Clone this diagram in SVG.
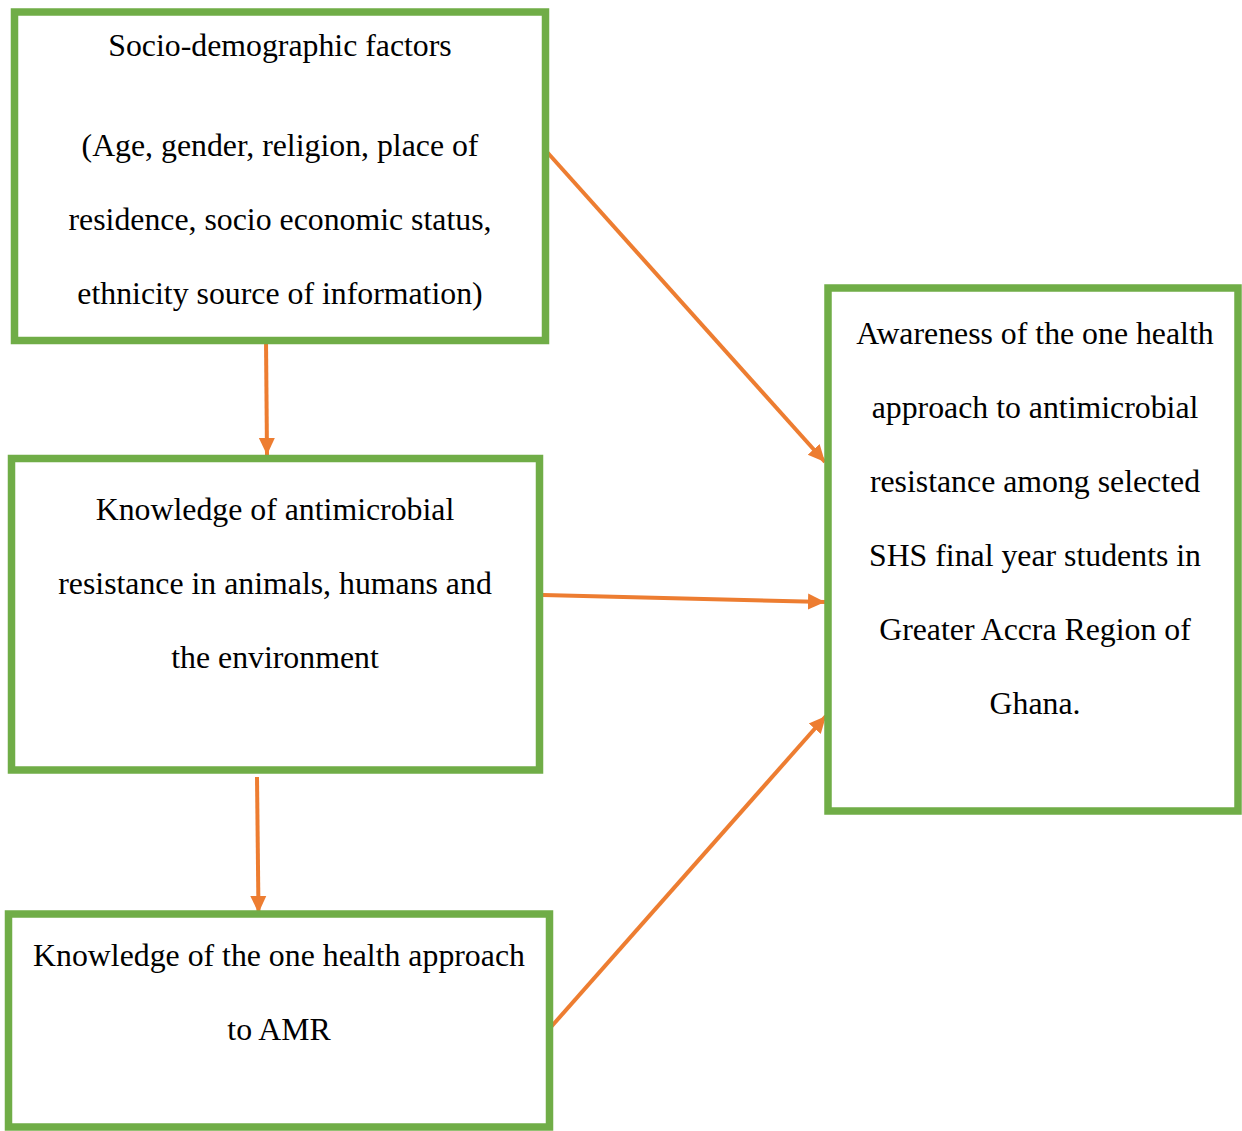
<svg xmlns="http://www.w3.org/2000/svg" width="1242" height="1131" viewBox="0 0 1242 1131">
<defs>
<style>
.box{fill:#FFFFFF;stroke:#70AD47;stroke-width:7.5}
.lbl{font-family:"Liberation Serif","Times New Roman",serif;font-size:31.8px;fill:#000;text-anchor:middle}
.arr{stroke:#ED7D31;stroke-width:4;fill:none;marker-end:url(#ah)}
</style>
<marker id="ah" markerUnits="userSpaceOnUse" markerWidth="18" markerHeight="18" viewBox="0 0 18 18" refX="17" refY="9" orient="auto">
<path d="M0,1 L17,9 L0,17 Z" fill="#ED7D31"/>
</marker>
</defs>
<rect width="1242" height="1131" fill="#FFFFFF"/>
<g id="connectors">
<line class="arr" x1="266" y1="340" x2="267" y2="455"/>
<line class="arr" x1="257" y1="777" x2="258.5" y2="913"/>
<line class="arr" x1="547" y1="152" x2="825" y2="462"/>
<line class="arr" x1="543" y1="595" x2="825" y2="602"/>
<line class="arr" x1="551" y1="1027" x2="826" y2="716"/>
</g>
<g id="node-socio">
<rect class="box" x="14.5" y="12" width="531" height="328.5"/>
<text class="lbl" x="280" y="56">Socio-demographic factors</text>
<text class="lbl" x="280" y="156">(Age, gender, religion, place of</text>
<text class="lbl" x="280" y="230">residence, socio economic status,</text>
<text class="lbl" x="280" y="304">ethnicity source of information)</text>
</g>
<g id="node-knowledge-amr">
<rect class="box" x="11.5" y="458.5" width="528" height="311.5"/>
<text class="lbl" x="275" y="520">Knowledge of antimicrobial</text>
<text class="lbl" x="275" y="594">resistance in animals, humans and</text>
<text class="lbl" x="275" y="668">the environment</text>
</g>
<g id="node-knowledge-onehealth">
<rect class="box" x="8.5" y="914" width="541" height="213"/>
<text class="lbl" x="279" y="966">Knowledge of the one health approach</text>
<text class="lbl" x="279" y="1040">to AMR</text>
</g>
<g id="node-awareness">
<rect class="box" x="828" y="288" width="410" height="523"/>
<text class="lbl" x="1035" y="344">Awareness of the one health</text>
<text class="lbl" x="1035" y="418">approach to antimicrobial</text>
<text class="lbl" x="1035" y="492">resistance among selected</text>
<text class="lbl" x="1035" y="566">SHS final year students in</text>
<text class="lbl" x="1035" y="640">Greater Accra Region of</text>
<text class="lbl" x="1035" y="714">Ghana.</text>
</g>
</svg>
